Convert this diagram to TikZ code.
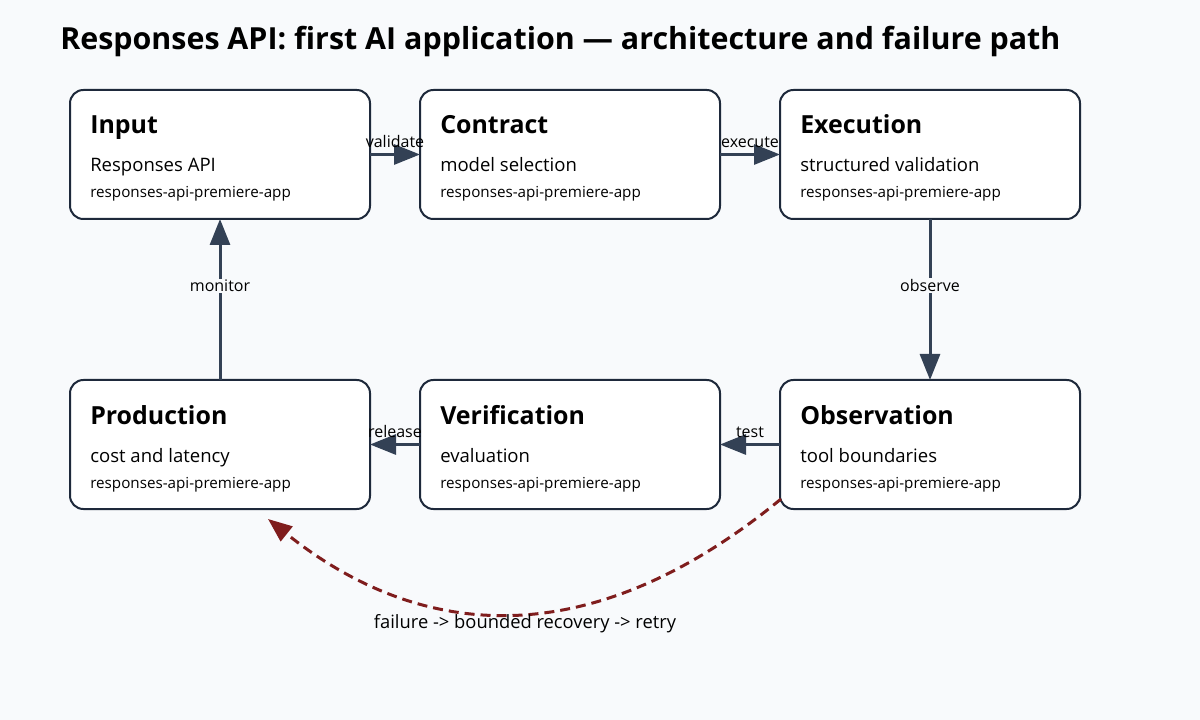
\documentclass[tikz,border=0pt]{standalone}
\usepackage{fontspec}
\setmainfont{Open Sans}
\usetikzlibrary{arrows.meta}
\definecolor{bgcol}{HTML}{F8FAFC}
\definecolor{boxline}{HTML}{1E293B}
\definecolor{flowcol}{HTML}{334155}
\definecolor{failcol}{HTML}{7F1D1D}
\begin{document}
\begin{tikzpicture}[x=0.75pt,y=-0.75pt,
    stage/.style={draw=boxline,fill=white,line width=1.5pt,rounded corners=10pt,
      minimum width=225pt,minimum height=96.75pt,inner sep=0pt,outer sep=0pt},
    stagetitle/.style={anchor=base west,inner sep=0pt,font=\fontsize{18.7}{22}\selectfont\bfseries},
    stagesub/.style={anchor=base west,inner sep=0pt,font=\fontsize{13.9}{16}\selectfont},
    stageid/.style={anchor=base west,inner sep=0pt,font=\fontsize{11.4}{13}\selectfont},
    flow/.style={draw=flowcol,line width=2.25pt,-{Triangle[length=19.5pt,width=15pt]}},
    flowlabel/.style={inner sep=0pt,font=\fontsize{12}{14}\selectfont},
    fail/.style={draw=failcol,line width=2.25pt,dash pattern=on 7.5pt off 4.5pt,
      -{Triangle[length=18pt,width=14pt]}}]
    \fill[bgcol] (0,0) rectangle (1200,720);
    \useasboundingbox (0,0) rectangle (1200,720);

    \node[anchor=base west,inner sep=0pt,font=\fontsize{22.8}{27}\selectfont\bfseries]
      (title) at (60,50) {Responses API: first AI application — architecture and failure path};

    % top row
    \node[stage] (input) at (220,154.5) {};
    \node[stagetitle] at (90,134) {Input};
    \node[stagesub] at (90,172) {Responses API};
    \node[stageid] at (90,198) {responses-api-premiere-app};

    \node[stage] (contract) at (570,154.5) {};
    \node[stagetitle] at (440,134) {Contract};
    \node[stagesub] at (440,172) {model selection};
    \node[stageid] at (440,198) {responses-api-premiere-app};

    \node[stage] (execution) at (930,154.5) {};
    \node[stagetitle] at (800,134) {Execution};
    \node[stagesub] at (800,172) {structured validation};
    \node[stageid] at (800,198) {responses-api-premiere-app};

    % bottom row
    \node[stage] (production) at (220,444.5) {};
    \node[stagetitle] at (90,424) {Production};
    \node[stagesub] at (90,462) {cost and latency};
    \node[stageid] at (90,488) {responses-api-premiere-app};

    \node[stage] (verification) at (570,444.5) {};
    \node[stagetitle] at (440,424) {Verification};
    \node[stagesub] at (440,462) {evaluation};
    \node[stageid] at (440,488) {responses-api-premiere-app};

    \node[stage] (observation) at (930,444.5) {};
    \node[stagetitle] at (800,424) {Observation};
    \node[stagesub] at (800,462) {tool boundaries};
    \node[stageid] at (800,488) {responses-api-premiere-app};

    % main flow
    \draw[flow] (input) -- node[flowlabel,above=4pt] {validate} (contract);
    \draw[flow] (contract) -- node[flowlabel,above=4pt] {execute} (execution);
    \draw[flow] (execution) -- node[pos=0.416,flowlabel,fill=bgcol,inner sep=1pt] {observe} (observation);
    \draw[flow] (observation) -- node[flowlabel,above=4pt] {test} (verification);
    \draw[flow] (verification) -- node[flowlabel,above=4pt] {release} (production);
    \draw[flow] (production) -- node[pos=0.584,flowlabel,fill=bgcol,inner sep=1pt] {monitor} (input);

    % failure path
    \coordinate (failstart) at (781,499);
    \coordinate (failend) at (268,519);
    \draw[fail] (failstart) .. controls (603,645) and (433,651) .. (failend);
    \node[flowlabel,font=\fontsize{13.75}{16}\selectfont] (failtext) at (525,624)
      {failure -> bounded recovery -> retry};
\end{tikzpicture}
\end{document}
